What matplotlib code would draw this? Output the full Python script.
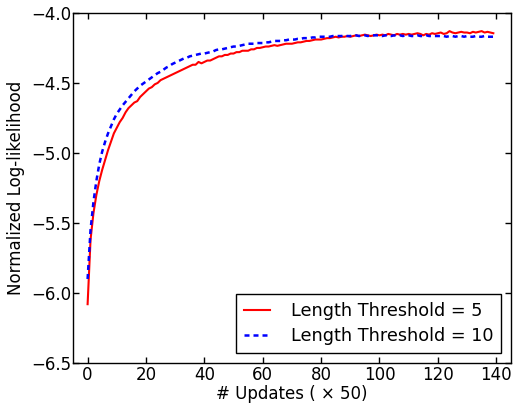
import matplotlib
import numpy as np

matplotlib.use("Agg")
import matplotlib.pyplot as plt  # noqa: E402

# Updates (x50), one value per step
updates = list(range(140))

# Length Threshold = 5
ll_thresh5 = [
    -6.08, -5.62, -5.43, -5.30, -5.20, -5.12, -5.05, -4.98, -4.92, -4.86,
    -4.82, -4.78, -4.75, -4.71, -4.68, -4.66, -4.64, -4.63, -4.60, -4.58,
    -4.56, -4.54, -4.53, -4.51, -4.50, -4.48, -4.47, -4.46, -4.45, -4.44,
    -4.43, -4.42, -4.41, -4.40, -4.39, -4.38, -4.37, -4.37, -4.35, -4.36,
    -4.35, -4.34, -4.34, -4.33, -4.32, -4.31, -4.31, -4.30, -4.30, -4.29,
    -4.29, -4.28, -4.28, -4.27, -4.27, -4.27, -4.26, -4.26, -4.25, -4.25,
    -4.245, -4.24, -4.24, -4.235, -4.23, -4.235, -4.23, -4.225, -4.22, -4.22,
    -4.22, -4.215, -4.21, -4.21, -4.205, -4.20, -4.20, -4.195, -4.19, -4.19,
    -4.19, -4.185, -4.18, -4.18, -4.175, -4.17, -4.175, -4.17, -4.17, -4.165,
    -4.17, -4.165, -4.16, -4.165, -4.16, -4.155, -4.16, -4.165, -4.16, -4.155,
    -4.16, -4.155, -4.16, -4.15, -4.155, -4.16, -4.15, -4.155, -4.15, -4.155,
    -4.15, -4.155, -4.15, -4.145, -4.15, -4.16, -4.15, -4.155, -4.145, -4.15,
    -4.145, -4.14, -4.15, -4.145, -4.13, -4.14, -4.145, -4.14, -4.135, -4.14,
    -4.14, -4.145, -4.135, -4.14, -4.135, -4.13, -4.14, -4.135, -4.14, -4.145,
]

# Length Threshold = 10
ll_thresh10 = [
    -5.90, -5.55, -5.35, -5.20, -5.08, -4.99, -4.92, -4.86, -4.81, -4.76,
    -4.72, -4.69, -4.66, -4.635, -4.61, -4.585, -4.56, -4.54, -4.52, -4.505,
    -4.49, -4.475, -4.46, -4.445, -4.43, -4.42, -4.405, -4.39, -4.38, -4.365,
    -4.355, -4.345, -4.335, -4.325, -4.32, -4.31, -4.305, -4.30, -4.295, -4.29,
    -4.29, -4.285, -4.28, -4.275, -4.265, -4.26, -4.26, -4.255, -4.25, -4.245,
    -4.24, -4.24, -4.235, -4.23, -4.225, -4.22, -4.22, -4.22, -4.215, -4.215,
    -4.215, -4.21, -4.21, -4.205, -4.20, -4.20, -4.20, -4.195, -4.195, -4.19,
    -4.19, -4.19, -4.185, -4.185, -4.18, -4.18, -4.18, -4.175, -4.175, -4.17,
    -4.17, -4.17, -4.17, -4.17, -4.165, -4.165, -4.165, -4.165, -4.16, -4.165,
    -4.165, -4.16, -4.16, -4.165, -4.16, -4.16, -4.165, -4.16, -4.16, -4.16,
    -4.16, -4.165, -4.16, -4.16, -4.165, -4.16, -4.165, -4.16, -4.165, -4.16,
    -4.16, -4.165, -4.165, -4.16, -4.165, -4.165, -4.16, -4.165, -4.165, -4.165,
    -4.165, -4.165, -4.165, -4.17, -4.165, -4.165, -4.17, -4.165, -4.165, -4.17,
    -4.165, -4.17, -4.17, -4.165, -4.17, -4.17, -4.165, -4.17, -4.17, -4.17,
]

x_ticks = [0, 20, 40, 60, 80, 100, 120, 140]
y_ticks = [-6.5, -6.0, -5.5, -5.0, -4.5, -4.0]

fig = plt.figure(figsize=(5.16, 4.04), dpi=100)
ax = fig.add_axes([0.1415, 0.1015, 0.8485, 0.8665])

ax.plot(updates, ll_thresh5, color="red", linewidth=1.5, label="Length Threshold = 5")
ax.plot(updates, ll_thresh10, color="blue", linewidth=1.8, linestyle="--",
        dashes=(2, 1.6), label="Length Threshold = 10")

ax.set_xlim(-5, 145)
ax.set_ylim(-6.5, -4.0)
ax.set_xticks(x_ticks)
ax.set_yticks(y_ticks)
ax.set_yticklabels([f"{v:.1f}".replace("-", "\u2212") for v in y_ticks])
ax.tick_params(direction="in", top=True, right=True, length=4, width=1,
               labelsize=12)
ax.tick_params(axis="x", pad=2.5)
ax.tick_params(axis="y", pad=1)
for sp in ax.spines.values():
    sp.set_linewidth(1)
    sp.set_color("black")

ax.set_xlabel("# Updates ( \u00d7 50)", fontsize=12, labelpad=0.5)
ax.set_ylabel("Normalized Log-likelihood", fontsize=12, labelpad=5)

leg = ax.legend(loc="lower right", fontsize=12.7, fancybox=False, framealpha=1,
                edgecolor="black", borderaxespad=0.55, handlelength=1.5,
                handletextpad=1.15, borderpad=0.45, labelspacing=0.4)
leg.get_frame().set_linewidth(1)

fig.savefig("out.png", dpi=100)
plt.close(fig)
